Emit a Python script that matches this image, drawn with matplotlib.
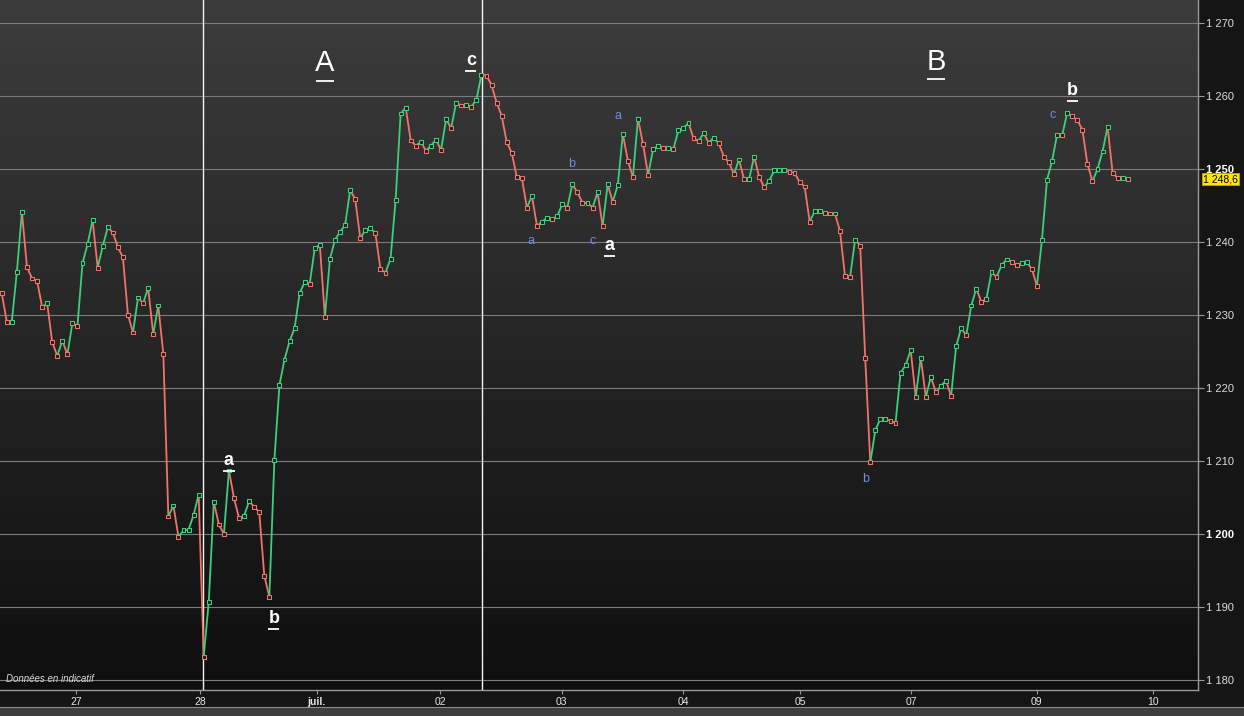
import numpy as np
import matplotlib
matplotlib.use("Agg")
import matplotlib.pyplot as plt
from matplotlib.collections import LineCollection
from matplotlib.colors import LinearSegmentedColormap
from matplotlib.transforms import offset_copy, blended_transform_factory
from matplotlib.patches import Rectangle

# ---------------- data ----------------
prices = [
    1233.0, 1229.1, 1229.1, 1235.9, 1244.1, 1236.6, 1235.0, 1234.7, 1231.1, 1231.6,
    1226.3, 1224.4, 1226.5, 1224.6, 1228.9, 1228.5, 1237.1, 1239.7, 1243.0, 1236.5,
    1239.4, 1242.0, 1241.3, 1239.3, 1237.9, 1230.0, 1227.6, 1232.4, 1231.6, 1233.7,
    1227.4, 1231.3, 1224.7, 1202.4, 1203.9, 1199.6, 1200.5, 1200.6, 1202.6, 1205.4,
    1183.2,
    1190.7, 1204.4, 1201.3, 1200.0, 1208.7, 1204.9, 1202.2, 1202.5, 1204.5, 1203.7,
    1203.0, 1194.3, 1191.4, 1210.2, 1220.4, 1223.9, 1226.4, 1228.2, 1233.0, 1234.5,
    1234.3, 1239.2, 1239.6, 1229.7, 1237.7, 1240.3, 1241.4, 1242.3, 1247.1, 1245.9,
    1240.5, 1241.6, 1241.9, 1241.2, 1236.3, 1235.8, 1237.7, 1245.7, 1257.6, 1258.4,
    1253.9, 1253.2,
    1253.7, 1252.5, 1253.2, 1254.0, 1252.6, 1256.8, 1255.6, 1259.1, 1258.7, 1258.8,
    1258.5, 1259.5, 1262.9, 1262.8, 1261.5,
    1259.1, 1257.3, 1253.7, 1252.2, 1248.9, 1248.8, 1244.7, 1246.3, 1242.2, 1242.8,
    1243.3, 1243.2, 1243.5, 1245.2, 1244.7, 1247.9, 1246.8, 1245.4, 1245.4, 1244.7,
    1246.8, 1242.2, 1247.9, 1245.5, 1247.8, 1254.8, 1251.1, 1248.9, 1256.9,
    1253.4, 1249.2, 1252.7, 1253.2, 1252.9, 1252.9, 1252.7, 1255.3, 1255.6, 1256.3,
    1254.2, 1253.8, 1254.9, 1253.6, 1254.3, 1253.5, 1251.7, 1250.9, 1249.3, 1251.3,
    1248.6, 1248.6, 1251.7, 1248.9, 1247.5, 1248.4, 1249.8, 1249.8, 1249.8, 1249.6,
    1249.5, 1248.2, 1247.6, 1242.8, 1244.2,
    1244.2, 1244.0, 1243.9, 1243.9, 1241.5, 1235.3, 1235.2, 1240.3, 1239.5, 1224.1,
    1209.8, 1214.2, 1215.8, 1215.8, 1215.5, 1215.2, 1222.1, 1223.1, 1225.2, 1218.8,
    1224.1, 1218.8, 1221.5, 1219.4, 1220.3, 1221.0, 1218.9, 1225.7, 1228.2, 1227.2,
    1231.3, 1233.6, 1231.8, 1232.2, 1235.9, 1235.2, 1236.8, 1237.6, 1237.3, 1236.8,
    1237.1, 1237.2, 1236.3, 1234.0, 1240.3, 1248.5, 1251.1, 1254.7, 1254.6, 1257.7,
    1257.2, 1256.7, 1255.4, 1250.7, 1248.3, 1250.0, 1252.4, 1255.8, 1249.4, 1248.8,
    1248.8, 1248.6,
]

day_labels = ["27", "28", "juil.", "02", "03", "04", "05", "07", "09", "10"]
day_index = [14.7, 39.3, 62.4, 86.8, 110.9, 134.9, 158.1, 180.1, 205.0, 228.0]

y_ticks = [1180, 1190, 1200, 1210, 1220, 1230, 1240, 1250, 1260, 1270]
vline_index = [39.9, 95.1]
last_price_label = "1 248,6"

# (text, index, price, kind)  kind: big / white / blue
annotations = [
    ("A", 64.0, 1264.5, "big"),
    ("B", 185.0, 1264.7, "big"),
    ("c", 92.9, 1264.9, "white"),
    ("a", 45.0, 1210.1, "white"),
    ("b", 53.9, 1188.4, "white"),
    ("a", 120.3, 1239.5, "white"),
    ("b", 212.1, 1260.8, "white"),
    ("a", 104.8, 1240.1, "blue"),
    ("b", 112.9, 1250.7, "blue"),
    ("c", 117.1, 1240.1, "blue"),
    ("a", 122.0, 1257.3, "blue"),
    ("b", 171.1, 1207.5, "blue"),
    ("c", 208.2, 1257.4, "blue"),
]

# ---------------- figure ----------------
W, H = 1244, 716
fig = plt.figure(figsize=(W / 100, H / 100), dpi=100)
fig.patch.set_facecolor("#151515")
plt.rcParams["font.family"] = ["Liberation Sans", "DejaVu Sans"]

ax = fig.add_axes([0, (H - 690) / H, 1198 / W, 690 / H])
ax.set_facecolor("#1c1c1c")

# gradient background
grad = np.linspace(0, 1, 256).reshape(-1, 1)
cmap_bg = LinearSegmentedColormap.from_list("bg", ["#0e0e0e", "#3c3c3c"])
ax.imshow(grad, cmap=cmap_bg, extent=[0, 1, 0, 1], transform=ax.transAxes,
          aspect="auto", origin="lower", zorder=0, interpolation="bicubic")

x = np.arange(len(prices))
y = np.array(prices)

GREEN = "#3bd07a"
RED = "#f27369"

seg_colors = []
segs = []
for i in range(1, len(y)):
    segs.append([(x[i - 1], y[i - 1]), (x[i], y[i])])
    seg_colors.append(GREEN if y[i] >= y[i - 1] else RED)
lc = LineCollection(segs, colors=seg_colors, linewidths=1.3, zorder=4)
ax.add_collection(lc)

pt_colors = [RED] + seg_colors
ax.scatter(x, y, marker="s", s=8, facecolors="#202020", edgecolors=pt_colors,
           linewidths=0.75, zorder=5)

# grid lines
for v in y_ticks:
    ax.axhline(v, color="#7c7c7c", lw=0.8, zorder=1)
for vi in vline_index:
    ax.axvline(vi, color="#f4f4f4", lw=1.0, zorder=3)

ax.set_xlim(-0.34, 236.9)
ax.set_ylim(1178.63, 1273.15)

# spines
for s in ["top", "left"]:
    ax.spines[s].set_visible(False)
ax.spines["right"].set_color("#9a9a9a")
ax.spines["bottom"].set_color("#9a9a9a")
ax.spines["right"].set_linewidth(1.0)
ax.spines["bottom"].set_linewidth(1.0)

# y ticks on right
ax.yaxis.tick_right()
ax.set_yticks(y_ticks)
ax.set_yticklabels(["{:,}".format(v).replace(",", " ") for v in y_ticks])
ax.tick_params(axis="y", colors="#9a9a9a", length=4, width=0.8, pad=2,
               labelsize=8, labelcolor="#dcdcdc")
for lab, v in zip(ax.get_yticklabels(), y_ticks):
    if v % 50 == 0:
        lab.set_fontweight("bold")
        lab.set_color("#ffffff")

# x ticks
ax.set_xticks(day_index)
ax.set_xticklabels(day_labels)
ax.tick_params(axis="x", colors="#9a9a9a", length=3, width=0.8, pad=2,
               labelsize=7.5, labelcolor="#e6e6e6")
for lab in ax.get_xticklabels():
    if lab.get_text() == "juil.":
        lab.set_fontweight("bold")

# last price label
tr = blended_transform_factory(ax.transAxes, ax.transData)
ax.text(1.0 + 5 / 1198, prices[-1], last_price_label, transform=tr,
        ha="left", va="center", fontsize=7.5, color="#000000", zorder=10,
        clip_on=False,
        bbox=dict(boxstyle="square,pad=0.1", facecolor="#ffe600",
                  edgecolor="#b8a600", linewidth=0.6))

# annotations
styles = {
    "big": dict(size=21, color="#ffffff", weight="normal", uw=1.8, uoff=-12.5),
    "white": dict(size=13, color="#ffffff", weight="bold", uw=1.1, uoff=-7.5),
    "blue": dict(size=9, color="#6f8ee0", weight="normal", uw=0, uoff=0),
}
for txt, xi, yv, kind in annotations:
    st = styles[kind]
    ax.text(xi, yv, txt, ha="center", va="center", fontsize=st["size"],
            color=st["color"], fontweight=st["weight"], zorder=8)
    if st["uw"] > 0:
        trans = offset_copy(ax.transData, fig=fig, x=0, y=st["uoff"], units="points")
        ax.plot([xi - st["uw"], xi + st["uw"]], [yv, yv], color=st["color"],
                lw=1.3, transform=trans, zorder=8, solid_capstyle="butt")

ax.text(0.005, 0.008, "Données en indicatif", transform=ax.transAxes,
        ha="left", va="bottom", fontsize=7, style="italic", color="#d8d8d8",
        zorder=8)

# bottom scroll strip
fig.patches.append(Rectangle((0, 0), 1, (716 - 707) / H, transform=fig.transFigure,
                             facecolor="#3e3e3e", edgecolor="none", zorder=0))
fig.add_artist(plt.Line2D([0, 1], [(716 - 707) / H] * 2, transform=fig.transFigure,
                          color="#8c8c8c", lw=0.8))

fig.savefig("out.png", dpi=100, facecolor=fig.get_facecolor())
